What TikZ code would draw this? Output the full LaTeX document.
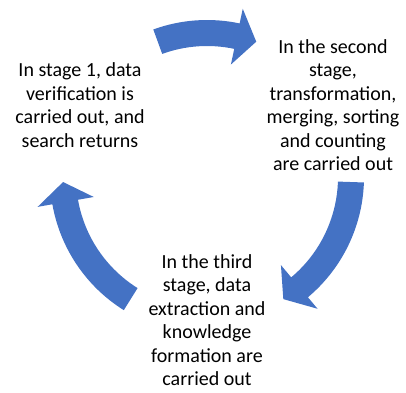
\documentclass[tikz,border=0pt]{standalone}
\usepackage{fontspec}
\setmainfont{Carlito}
\definecolor{cycleblue}{HTML}{4472C4}
\tikzset{
  stagetext/.style={align=center, inner sep=0pt, font=\fontsize{20}{23.5}\selectfont},
  cyclearrow/.style={fill=cycleblue}
}

\begin{document}
\begin{tikzpicture}[x=1pt, y=1pt]
        \useasboundingbox (0,0) rectangle (406,392);
        \coordinate (c) at (207,215);

        % the three bent arrows: tail / head base / tip angle
        \begin{scope}[shift={(c)}]
          \foreach \t/\b/\p in {110/78/70, -2/-50/-58, 238/190/182}
          {
            \fill[cyclearrow] (\t:157) arc[start angle=\t, end angle=\b, radius=157]
                -- (\b:172) -- (\p:144) -- (\b:115) -- (\b:131)
                arc[start angle=\b, end angle=\t, radius=131] -- cycle;
          }
        \end{scope}

        \node[stagetext] (first) at (80,287) {In stage 1, data\\verification is\\carried out, and\\search returns};
        \node[stagetext] (second) at (333,287) {In the second\\stage,\\transformation,\\merging, sorting\\and counting\\are carried out};
        \node[stagetext] (third) at (207,72) {In the third\\stage, data\\extraction and\\knowledge\\formation are\\carried out};
    \end{tikzpicture}
\end{document}
